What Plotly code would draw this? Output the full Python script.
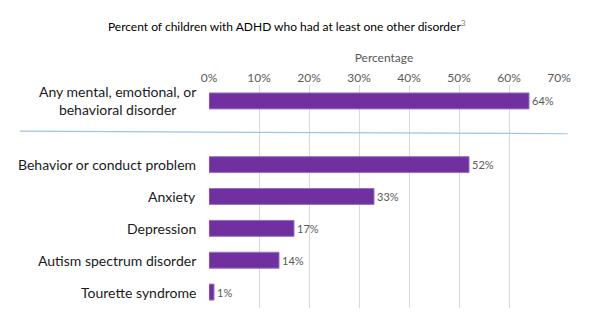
import plotly.graph_objects as go

# Chart data
categories = [
    "Any mental, emotional, or<br>behavioral disorder",
    "Behavior or conduct problem",
    "Anxiety",
    "Depression",
    "Autism spectrum disorder",
    "Tourette syndrome",
]
values = [64, 52, 33, 17, 14, 1]
# row slot for each category (slot 1 is left empty for the divider)
slots = [0, 2, 3, 4, 5, 6]
tick_values = [0, 10, 20, 30, 40, 50, 60, 70]
tick_labels = ["0%", "10%", "20%", "30%", "40%", "50%", "60%", "70%"]

FONT = "Lato"
PURPLE = "#7030A0"

fig = go.Figure()
fig.add_trace(go.Bar(
    x=values,
    y=slots,
    orientation="h",
    width=0.5,
    marker=dict(color=PURPLE, line=dict(color="#9B6CC4", width=1)),
    text=[f"{v}%" for v in values],
    textposition="outside",
    textfont=dict(family=FONT, size=11, color="#595959"),
    cliponaxis=False,
    hoverinfo="skip",
))

# category labels, right-aligned to the plot edge, centred within multi-line text
for cat, s in zip(categories, slots):
    fig.add_annotation(
        x=0, xref="paper", y=s, yref="y",
        text=cat, showarrow=False,
        xanchor="right", yanchor="middle", align="center",
        xshift=-11,
        font=dict(family=FONT, size=14, color="#1a1a1a"),
    )

# divider between the summary row and the individual disorders
fig.add_shape(
    type="line", xref="paper", yref="y",
    x0=-0.54, x1=1.025, y0=0.95, y1=1.03,
    line=dict(color="#9DC3E6", width=1.2),
)

fig.update_layout(
    width=600, height=330,
    margin=dict(l=209, r=41, t=85, b=22),
    paper_bgcolor="white",
    plot_bgcolor="white",
    showlegend=False,
    title=dict(
        text="Percent of children with ADHD who had at least one other disorder<sup><span style='color:#808080'>3</span></sup>",
        x=0.478, xanchor="center", y=0.92, yanchor="middle",
        font=dict(family=FONT, size=12, color="#000000"),
    ),
    xaxis=dict(
        side="top",
        range=[0, 70],
        tickvals=tick_values,
        ticktext=tick_labels,
        tickfont=dict(family=FONT, size=12, color="#595959"),
        showgrid=True, gridcolor="#D9D9D9", gridwidth=1,
        zeroline=False, showline=False, ticks="",
        title=dict(text="Percentage", standoff=4,
                   font=dict(family=FONT, size=12, color="#595959")),
        fixedrange=True,
    ),
    yaxis=dict(
        range=[6.5, -0.5],
        showticklabels=False, showgrid=False, zeroline=False,
        showline=False, ticks="",
        fixedrange=True,
    ),
)

fig.write_html("out.html")
